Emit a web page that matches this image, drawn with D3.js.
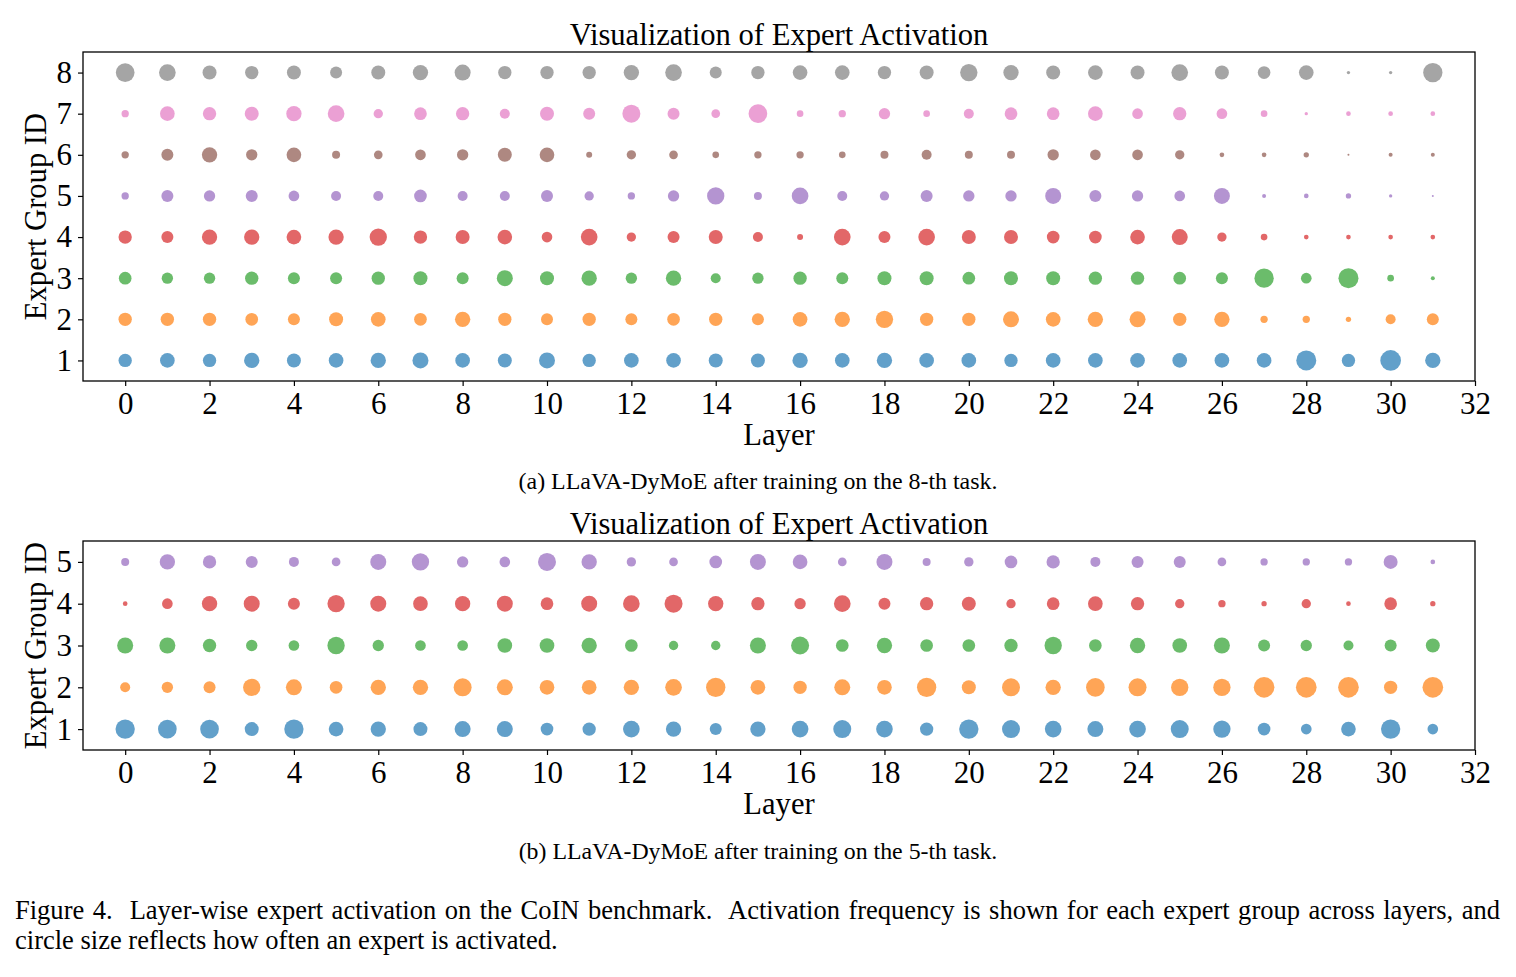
<!DOCTYPE html>
<html><head><meta charset="utf-8">
<script src="https://cdn.jsdelivr.net/npm/d3@7"></script>
<style>
body{margin:0;background:#fff}
text{font-family:"Liberation Serif","Times New Roman",serif;fill:#000}
</style>
</head><body><svg id="c" width="1516" height="977"></svg>
<script>
const layers = [0,1,2,3,4,5,6,7,8,9,10,11,12,13,14,15,16,17,18,19,20,21,22,23,24,25,26,27,28,29,30,31];
const xTicks = [0,2,4,6,8,10,12,14,16,18,20,22,24,26,28,30,32];
const groupsA = [1,2,3,4,5,6,7,8];
const groupsB = [1,2,3,4,5];
const groupColors = ["#1f77b4","#ff7f0e","#2ca02c","#d62728","#9467bd","#8c564b","#e377c2","#7f7f7f"];

const chartTitle = "Visualization of Expert Activation";
const xLabel = "Layer";
const yLabel = "Expert Group ID";
const captionA = "(a) LLaVA-DyMoE after training on the 8-th task.";
const captionB = "(b) LLaVA-DyMoE after training on the 5-th task.";
const figCaption1 = "Figure 4.\u00a0 Layer-wise expert activation on the CoIN benchmark.\u00a0 Activation frequency is shown for each expert group across layers, and";
const figCaption2 = "circle size reflects how often an expert is activated.";

// (a) after 8-th task: activation score per layer (marker size)
const actA1 = [40,44,40,46,42,44,46,48,44,42,48,40,44,44,42,42, 46,44,46,44,44,40,44,44,44,44,44,44,60,40,62,46];
const actA2 = [40,40,40,38,36,42,44,38,46,40,36,40,36,38,40,36, 44,46,52,40,40,48,44,46,48,40,46,22,22,16,30,36];
const actA3 = [38,34,34,40,36,36,40,42,36,48,42,46,34,46,30,34, 40,36,42,42,38,42,42,40,40,38,36,58,32,60,20,12];
const actA4 = [40,36,46,46,44,46,52,40,42,44,32,50,28,36,42,30, 18,50,36,50,42,42,38,38,44,48,28,20,14,14,14,14];
const actA5 = [22,36,34,36,32,30,30,38,30,30,36,28,22,34,52,24, 50,30,28,36,34,34,48,36,34,32,48,12,14,16,10,6];
const actA6 = [22,36,46,34,44,24,26,32,34,42,44,18,28,26,20,22, 22,20,24,30,24,24,34,32,32,28,14,14,16,6,12,12];
const actA7 = [22,44,40,42,46,50,28,38,40,30,42,36,54,36,26,56, 20,22,34,20,30,38,38,44,32,40,32,20,10,14,14,14];
const actA8 = [56,50,42,40,42,36,42,46,48,40,40,40,46,50,36,40, 44,44,40,42,52,46,42,44,42,50,42,38,44,10,10,58];

// (b) after 5-th task
const actB1 = [58,56,56,42,58,44,46,42,48,48,38,40,50,46,36,46, 50,54,50,40,58,54,50,48,50,54,52,38,32,44,58,32];
const actB2 = [30,34,36,52,48,38,46,46,54,48,44,44,46,50,58,44, 40,48,44,58,42,54,46,56,54,52,52,62,62,62,40,62];
const actB3 = [48,48,40,34,32,52,34,32,32,44,44,46,38,28,28,48, 54,38,46,38,38,40,52,38,46,44,48,36,34,30,36,42];
const actB4 = [14,32,46,48,36,52,48,44,46,48,38,48,50,54,46,40, 34,50,36,40,42,28,38,44,40,28,22,16,28,14,38,16];
const actB5 = [24,46,40,36,30,26,48,52,34,32,54,46,28,26,38,48, 44,26,48,24,28,38,40,30,36,36,26,22,22,22,42,14];

const seriesA = [actA1,actA2,actA3,actA4,actA5,actA6,actA7,actA8];
const seriesB = [actB1,actB2,actB3,actB4,actB5];

const svg = d3.select("#c");
svg.append("rect").attr("width",1516).attr("height",977).attr("fill","#fff");

const left = 83, right = 1475;
const x = d3.scaleLinear().domain([-1, 32]).range([left, right]);
const r = d3.scaleLinear().domain([0, 60]).range([0, 10]);
const FS = 30.6, TICKFS = 31;

function fitText(sel, baseSize, targetWidth) {
  sel.attr("font-size", baseSize);
  const w = sel.node().getComputedTextLength();
  sel.attr("font-size", baseSize * targetWidth / w);
}

function panel(groups, series, top, bottom, caption, captionY) {
  const g = svg.append("g");
  const y = d3.scaleLinear().domain([0.5, groups.length + 0.5]).range([bottom, top]);

  groups.forEach((gid, gi) => {
    g.append("g").selectAll("circle")
      .data(layers.map((l, i) => ({l, v: series[gi][i]})))
      .join("circle")
      .attr("cx", d => x(d.l))
      .attr("cy", y(gid))
      .attr("r", d => r(d.v))
      .attr("fill", groupColors[gi])
      .attr("fill-opacity", 0.7);
  });

  const xa = g.append("g").attr("transform", `translate(0,${bottom})`)
    .call(d3.axisBottom(x).tickValues(xTicks).tickFormat(d3.format("d")).tickSize(5).tickPadding(6));
  const ya = g.append("g").attr("transform", `translate(${left},0)`)
    .call(d3.axisLeft(y).tickValues(groups).tickFormat(d3.format("d")).tickSize(5).tickPadding(6));
  [xa, ya].forEach(a => {
    a.select(".domain").remove();
    a.selectAll("line").attr("stroke", "#000").attr("stroke-width", 1.2);
    a.selectAll("text").attr("font-size", TICKFS).attr("font-family", '"Liberation Serif",serif').attr("fill", "#000");
  });

  g.append("rect").attr("x", left).attr("y", top).attr("width", right - left).attr("height", bottom - top)
    .attr("fill", "none").attr("stroke", "#000").attr("stroke-width", 1.3);

  g.append("text").attr("x", (left + right) / 2).attr("y", top - 7).attr("text-anchor", "middle")
    .attr("font-size", FS).text(chartTitle);
  g.append("text").attr("x", (left + right) / 2).attr("y", bottom + 64).attr("text-anchor", "middle")
    .attr("font-size", FS).text(xLabel);
  g.append("text").attr("transform", `translate(46,${(top + bottom) / 2}) rotate(-90)`).attr("text-anchor", "middle")
    .attr("font-size", FS).text(yLabel);
  const c = g.append("text").attr("x", 758).attr("y", captionY).attr("text-anchor", "middle").text(caption);
  fitText(c, 22, 479);
}

panel(groupsA, seriesA, 52, 381, captionA, 489);
panel(groupsB, seriesB, 541, 750, captionB, 859);

const t2 = svg.append("text").attr("x", 15).attr("y", 949).text(figCaption2);
fitText(t2, 25, 543);
const capFS = +t2.attr("font-size");
const t1 = svg.append("text").attr("x", 15).attr("y", 919).attr("font-size", capFS).text(figCaption1);
const target = 1500 - 15;
const spaces = (figCaption1.match(/[ \u00a0]/g) || []).length;
let ws = 0;
for (let k = 0; k < 3; k++) {
  const w = t1.node().getBBox().width;
  ws += (target - w) / spaces;
  t1.attr("word-spacing", ws);
}
</script>
</body></html>
